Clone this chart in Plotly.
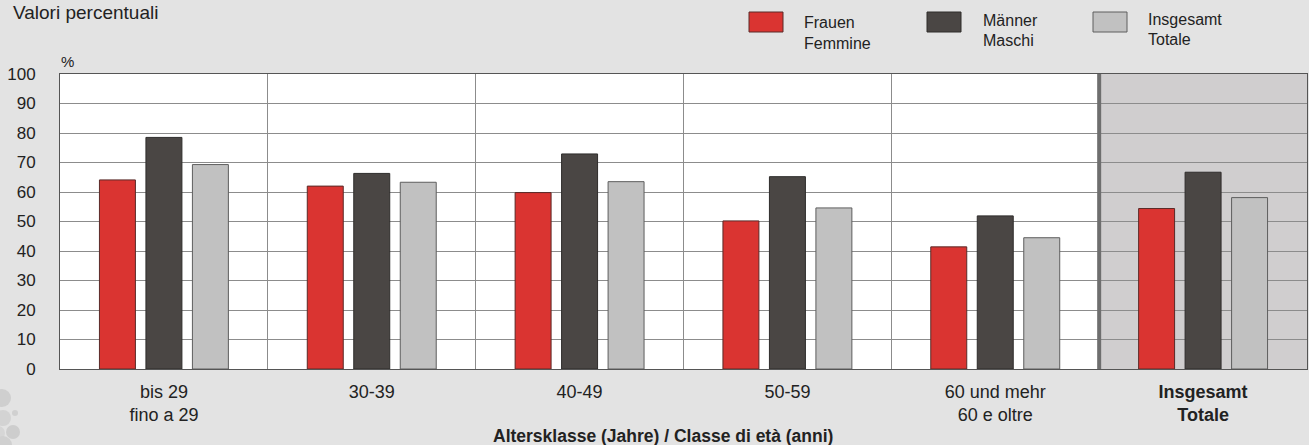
import plotly.graph_objects as go

categories = ["bis 29<br>fino a 29", "30-39", "40-49", "50-59",
              "60 und mehr<br>60 e oltre", "<b>Insgesamt</b><br><b>Totale</b>"]
frauen = [64.1, 62.0, 59.8, 50.2, 41.4, 54.4]
maenner = [78.5, 66.3, 72.9, 65.2, 51.9, 66.7]
insgesamt = [69.3, 63.3, 63.5, 54.6, 44.5, 58.1]
series_names = ["Frauen<br>Femmine", "Männer<br>Maschi", "Insgesamt<br>Totale"]
y_ticks = [0, 10, 20, 30, 40, 50, 60, 70, 80, 90, 100]

colors = ["#da3431", "#4a4644", "#c1c1c1"]
outlines = ["#5a2a28", "#2e2c2b", "#5e5e5e"]

W, H = 1309, 445
ML, MR, MT, MB = 60, 2, 74, 76
PW, PH = W - ML - MR, H - MT - MB

def px_x(p):
    return (p - ML) / PW

def px_y(p):
    return 1 - (p - MT) / PH

fig = go.Figure()
for vals, name, c, oc in zip([frauen, maenner, insgesamt], series_names, colors, outlines):
    fig.add_trace(go.Bar(x=categories, y=vals, name=name, marker_color=c,
                         marker_line_color=oc, marker_line_width=1,
                         showlegend=False, hoverinfo="skip"))

shapes = [
    dict(type="rect", xref="x", yref="paper", x0=4.5, x1=5.5, y0=0, y1=1,
         fillcolor="#d0cecf", line_width=0, layer="below"),
    dict(type="line", xref="x", yref="paper", x0=4.5, x1=4.5, y0=0, y1=1,
         line=dict(color="#6e6e6e", width=4), layer="above"),
]

# custom legend
leg_rects = [(749, 783), (927, 961), (1093, 1127)]
leg_text = [(802, 22, 43), (981, 20, 40), (1146, 19, 39)]
annotations = []
for (x0, x1), name, c, oc, (tx, ty1, ty2) in zip(leg_rects, series_names, colors, outlines, leg_text):
    shapes.append(dict(type="rect", xref="paper", yref="paper",
                       x0=px_x(x0), x1=px_x(x1), y0=px_y(32), y1=px_y(12),
                       fillcolor=c, line=dict(color=oc, width=1)))
    l1, l2 = name.split("<br>")
    for t, yy in ((l1, ty1), (l2, ty2)):
        annotations.append(dict(text=t, xref="paper", yref="paper", x=px_x(tx), y=px_y(yy),
                                xanchor="left", yanchor="middle", showarrow=False,
                                font=dict(size=16, color="#222")))

# decorative dots bottom-left
for cx, cy, r, col in [(2, 398, 9, "#cfcfcf"), (3, 418, 8, "#d3d3d3"), (15, 413, 3, "#d0d0d0"),
                       (13, 432, 7, "#cdcdcd"), (-2, 433, 7, "#d6d6d6"), (3, 445, 9, "#d0d0d0")]:
    shapes.append(dict(type="circle", xref="paper", yref="paper",
                       x0=px_x(cx - r), x1=px_x(cx + r), y0=px_y(cy + r), y1=px_y(cy - r),
                       fillcolor=col, line_width=0))

annotations += [
    dict(text="Valori percentuali", xref="paper", yref="paper", x=px_x(11), y=px_y(0),
         xanchor="left", yanchor="top", showarrow=False, font=dict(size=19, color="#222")),
    dict(text="%", xref="paper", yref="paper", x=px_x(59), y=px_y(62),
         xanchor="left", yanchor="middle", showarrow=False, font=dict(size=15, color="#222")),
    dict(text="<b>Altersklasse (Jahre) / Classe di età (anni)</b>", xref="paper", yref="paper",
         x=px_x(663), y=px_y(436), xanchor="center", yanchor="middle", showarrow=False,
         font=dict(size=17.5, color="#222")),
]

fig.update_layout(
    width=W, height=H,
    margin=dict(l=ML, r=MR, t=MT, b=MB),
    paper_bgcolor="#e3e3e3", plot_bgcolor="#ffffff",
    font=dict(family="Liberation Sans, Arial, sans-serif", size=16, color="#222"),
    barmode="group", bargap=0.329, bargroupgap=0.226,
    shapes=shapes, annotations=annotations,
)
fig.update_xaxes(tickson="boundaries", showgrid=True, gridcolor="#8c8c8c", gridwidth=1,
                 showline=True, mirror=True, linecolor="#555", linewidth=1,
                 ticks="", ticklabelstandoff=6, tickfont=dict(size=18))
fig.update_yaxes(range=[0, 100], tickvals=y_ticks, showgrid=True, gridcolor="#8c8c8c",
                 gridwidth=1, showline=True, mirror=True, linecolor="#555", linewidth=1,
                 zeroline=False, ticks="", ticklabelstandoff=20, tickfont=dict(size=17))

fig.write_html("out.html", config={"displayModeBar": False},
               post_script="document.body.style.margin='0';")
